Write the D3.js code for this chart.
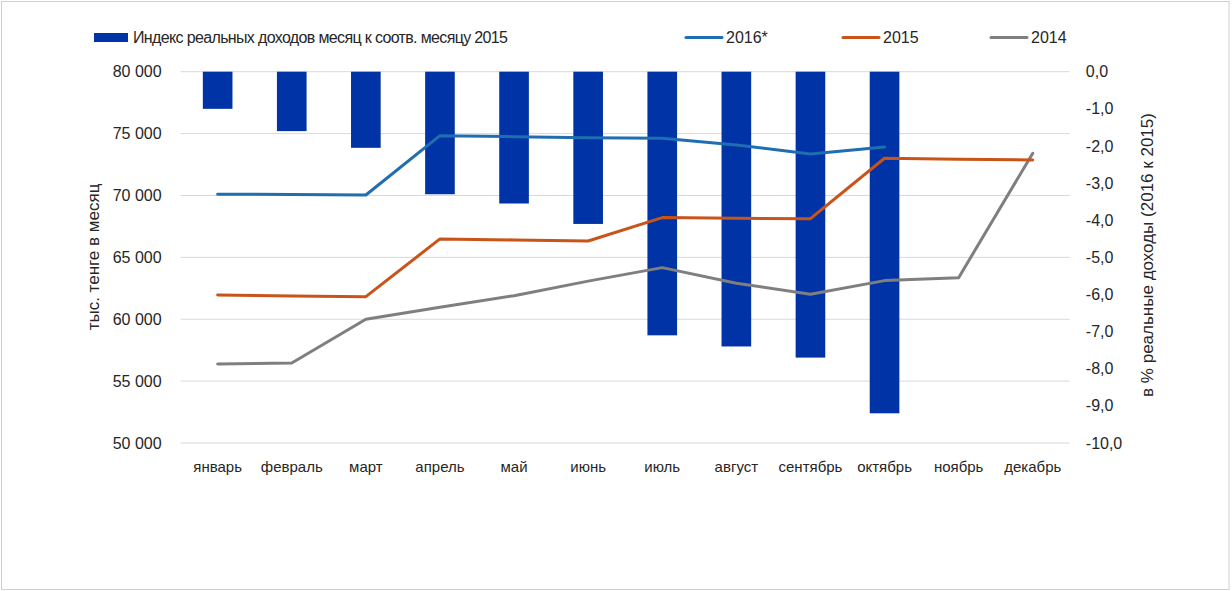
<!DOCTYPE html>
<html><head><meta charset="utf-8">
<script src="https://cdn.jsdelivr.net/npm/d3@7"></script>
<style>body{margin:0;background:#fff}svg{display:block}text{font-family:"Liberation Sans",Arial,sans-serif;fill:#262626}</style>
</head><body><svg id="c" width="1232" height="591"></svg>
<script>
const months = ["январь","февраль","март","апрель","май","июнь","июль","август","сентябрь","октябрь","ноябрь","декабрь"];
const indexValues = [-1.0,-1.6,-2.05,-3.3,-3.55,-4.1,-7.1,-7.4,-7.7,-9.2];
const s2016 = [70100,70080,70040,74830,74750,74670,74620,74080,73350,73920];
const s2015 = [61960,61880,61825,66490,66405,66325,68210,68150,68125,73005,72925,72870];
const s2014 = [56390,56470,60000,60970,61905,63080,64170,62910,62020,63120,63360,73410];
const leftTicks = [50000,55000,60000,65000,70000,75000,80000];
const rightTicks = [0,-1,-2,-3,-4,-5,-6,-7,-8,-9,-10];
const legendItems = ["Индекс реальных доходов месяц к соотв. месяцу 2015","2016*","2015","2014"];

const svg = d3.select("#c");
const L = 180.6, R = 1069.8, T = 71.7, B = 443;
svg.append("rect").attr("x",1.5).attr("y",1.5).attr("width",1227.5).attr("height",588).attr("fill","#fff").attr("stroke","#d0d0d0");

const x = d3.scaleBand().domain(months).range([L,R]).paddingInner(0.6).paddingOuter(0.3);
const yL = d3.scaleLinear().domain([50000,80000]).range([B,T]);
const yR = d3.scaleLinear().domain([-10,0]).range([B,T]);
const cx = m => x(m) + x.bandwidth()/2;
const fmt = d => d3.format(",")(d).replace(/,/g," ");

// grid
svg.append("g").selectAll("line").data(leftTicks).join("line")
  .attr("x1",L).attr("x2",R).attr("y1",d=>yL(d)).attr("y2",d=>yL(d))
  .attr("stroke","#d9d9d9").attr("stroke-width",1);

// left axis labels
const gl = svg.append("g").attr("transform",`translate(${L-19},0)`)
  .call(d3.axisLeft(yL).tickValues(leftTicks).tickFormat(fmt).tickSize(0).tickPadding(0));
gl.select(".domain").remove();
gl.selectAll("text").attr("font-size",16).attr("fill","#262626").style("font-family","Liberation Sans, Arial, sans-serif");

// right axis labels
const gr = svg.append("g").attr("transform",`translate(${R+16},0)`)
  .call(d3.axisRight(yR).tickValues(rightTicks).tickFormat(d=>d3.format(".1f")(d).replace(".",",").replace("−","-")).tickSize(0).tickPadding(0));
gr.select(".domain").remove();
gr.selectAll("text").attr("font-size",16).attr("fill","#262626").style("font-family","Liberation Sans, Arial, sans-serif");

// x axis labels
const gx = svg.append("g").attr("transform",`translate(0,${B+18})`)
  .call(d3.axisBottom(x).tickSize(0).tickPadding(0));
gx.select(".domain").remove();
gx.selectAll("text").attr("font-size",15).attr("fill","#262626").attr("dy","0.71em").style("font-family","Liberation Sans Narrow, Liberation Sans, Arial, sans-serif");

// bars
svg.append("g").selectAll("rect").data(indexValues).join("rect")
  .attr("x",(d,i)=>x(months[i])).attr("width",x.bandwidth())
  .attr("y",yR(0)).attr("height",d=>yR(d)-yR(0))
  .attr("fill","#0033a6");

// lines
const line = d3.line().x((d,i)=>cx(months[i])).y(d=>yL(d));
const series = [[s2014,"#7f7f7f"],[s2015,"#c8541a"],[s2016,"#1f6eb0"]];
series.forEach(([s,c])=>{
  svg.append("path").datum(s).attr("d",line).attr("fill","none").attr("stroke",c).attr("stroke-width",3).attr("stroke-linejoin","round").attr("stroke-linecap","round");
});

// axis titles
svg.append("text").attr("transform","translate(99,257) rotate(-90)").attr("text-anchor","middle").attr("font-size",17).text("тыс. тенге  в месяц");
svg.append("text").attr("transform","translate(1153,255) rotate(-90)").attr("text-anchor","middle").attr("font-size",17).text("в % реальные  доходы (2016 к 2015)");

// legend
const lg = svg.append("g");
lg.append("rect").attr("x",94).attr("y",33).attr("width",34).attr("height",9).attr("fill","#0033a6");
lg.append("text").attr("x",133).attr("y",43).attr("font-size",16).attr("textLength",375).text(legendItems[0]);
const lineLeg = [[686,legendItems[1],"#1f6eb0",40],[843,legendItems[2],"#c8541a",33],[991,legendItems[3],"#7f7f7f",33]];
lineLeg.forEach(([lx,t,c,w])=>{
  lg.append("line").attr("x1",lx).attr("x2",lx+36).attr("y1",37.5).attr("y2",37.5).attr("stroke",c).attr("stroke-width",3).attr("stroke-linecap","round");
  lg.append("text").attr("x",lx+40).attr("y",43).attr("font-size",16).text(t);
});
</script></body></html>
